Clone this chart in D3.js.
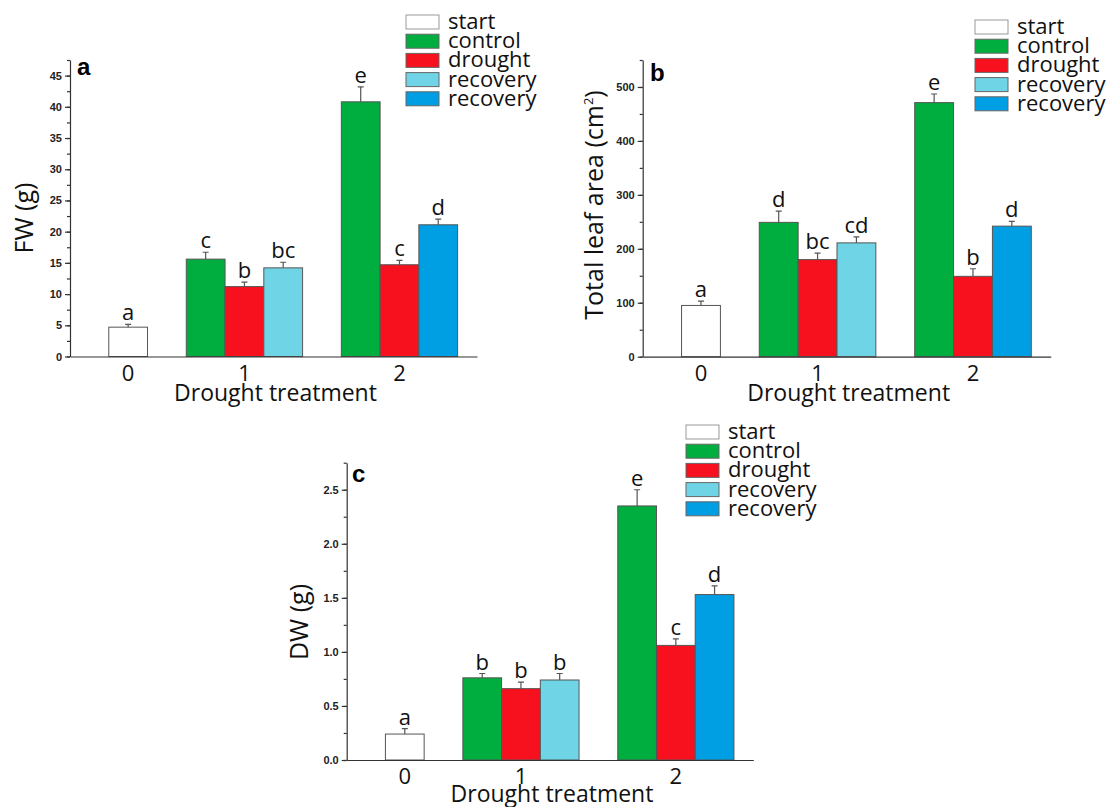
<!DOCTYPE html>
<html>
<head>
<meta charset="utf-8">
<title>Drought treatment panels</title>
<script src="https://cdnjs.cloudflare.com/ajax/libs/d3/7.8.5/d3.min.js"></script>
<style>
body { margin: 0; background: #fff; }
.tick text { font-family: "Liberation Sans", Arial, sans-serif; font-weight: bold; font-size: 11px; fill: #222; }
.axis path, .axis line { stroke: #333; stroke-width: 1.2; }
.lab { font-family: "Open Sans", sans-serif; fill: #111; }
.ptitle { font-family: "Liberation Sans", Arial, sans-serif; font-weight: bold; font-size: 24px; }
.bar { stroke: #555; stroke-width: 1; }
.err { stroke: #555; stroke-width: 1.2; }
</style>
</head>
<body>
<svg id="vis" width="1113" height="807"></svg>
<script>
// categories and series
var groups = ["0", "1", "2"];
var seriesNames = ["start", "control", "drought", "recovery", "recovery"];
var seriesColors = ["#ffffff", "#00ae3f", "#f7111f", "#6fd5e6", "#009fe3"];
var groupSeries = [[0], [1, 2, 3], [1, 2, 4]];

// panel a: fresh weight
var fwMean = [[4.7], [15.6, 11.2, 14.2], [40.8, 14.7, 21.1]];
var fwErr = [[0.45], [1.1, 0.7, 0.9], [2.4, 0.7, 0.9]];
var fwLetters = [["a"], ["c", "b", "bc"], ["e", "c", "d"]];
var fwTicks = [0, 5, 10, 15, 20, 25, 30, 35, 40, 45];

// panel b: total leaf area
var areaMean = [[95], [249, 180, 211], [471, 149, 242]];
var areaErr = [[8], [21, 12, 11], [16, 14, 9]];
var areaLetters = [["a"], ["d", "bc", "cd"], ["e", "b", "d"]];
var areaTicks = [0, 100, 200, 300, 400, 500];

// panel c: dry weight
var dwMean = [[0.24], [0.76, 0.66, 0.74], [2.35, 1.06, 1.53]];
var dwErr = [[0.05], [0.04, 0.06, 0.06], [0.15, 0.06, 0.08]];
var dwLetters = [["a"], ["b", "b", "b"], ["e", "c", "d"]];
var dwTicks = [0, 0.5, 1.0, 1.5, 2.0, 2.5];

var svg = d3.select("#vis");

var panels = [
  {id: "a", mean: fwMean, err: fwErr, letters: fwLetters, ticks: fwTicks, max: 47.5, minor: 2.5, fmt: d3.format("d"),
   box: [70, 477, 60, 356.5], title: [77, 75], ylab: [33, 218], legend: [406, 15], xlabY: 401},
  {id: "b", mean: areaMean, err: areaErr, letters: areaLetters, ticks: areaTicks, max: 550, minor: 50, fmt: d3.format("d"),
   box: [642.7, 1050.7, 60, 356.7], title: [650, 81], ylab: [603, 205], legend: [975, 20], xlabY: 401},
  {id: "c", mean: dwMean, err: dwErr, letters: dwLetters, ticks: dwTicks, max: 2.75, minor: 0.25, fmt: d3.format(".1f"),
   box: [346.7, 753.3, 462.7, 760], title: [352, 481.5], ylab: [308, 622], legend: [686, 425], xlabY: 802}
];

// lay bars into slots, one empty slot between groups
var slots = [];
var s = 0;
groups.forEach(function(g, gi) {
  groupSeries[gi].forEach(function(si, bi) {
    slots.push({g: gi, b: bi, series: si, slot: s});
    s++;
  });
  s++;
});

function groupCenter(gi) {
  return d3.mean(slots.filter(d => d.g == gi), d => d.slot);
}

panels.forEach(drawPanel);

function drawPanel(p) {
  var left = p.box[0], right = p.box[1], top = p.box[2], bottom = p.box[3];
  var g = svg.append("g");

  var x = d3.scaleLinear().domain([-1.5, 9]).range([left, right]);
  var y = d3.scaleLinear().domain([0, p.max]).range([bottom, top]);
  var bw = x(0.5) - x(-0.5);

  // minor ticks
  g.append("g")
    .attr("class", "axis")
    .attr("transform", `translate(${left},0)`)
    .call(d3.axisLeft(y).tickValues(d3.range(0, p.max + p.minor / 2, p.minor)).tickSize(3).tickFormat(""))
    .select(".domain").remove();

  g.append("g")
    .attr("class", "axis")
    .attr("transform", `translate(${left},0)`)
    .call(d3.axisLeft(y).tickValues(p.ticks).tickSize(5).tickSizeOuter(0).tickPadding(3).tickFormat(p.fmt));

  var bars = slots.map(d => ({
    slot: d.slot, series: d.series,
    v: p.mean[d.g][d.b], e: p.err[d.g][d.b], l: p.letters[d.g][d.b]
  }));

  g.selectAll(".bar")
    .data(bars).enter().append("rect")
      .attr("class", "bar")
      .attr("x", d => x(d.slot) - bw / 2)
      .attr("width", bw)
      .attr("y", d => y(d.v))
      .attr("height", d => y(0) - y(d.v))
      .style("fill", d => seriesColors[d.series]);

  g.selectAll(".err")
    .data(bars).enter().append("path")
      .attr("class", "err")
      .attr("fill", "none")
      .attr("d", d => `M${x(d.slot)},${y(d.v)}V${y(d.v + d.e)}M${x(d.slot) - 3},${y(d.v + d.e)}H${x(d.slot) + 3}`);

  g.selectAll(".letter")
    .data(bars).enter().append("text")
      .attr("class", "lab")
      .attr("x", d => x(d.slot))
      .attr("y", d => y(d.v + d.e) - 4)
      .attr("text-anchor", "middle")
      .style("font-size", "22px")
      .text(d => d.l);

  // x axis line only
  g.append("g")
    .attr("class", "axis")
    .attr("transform", `translate(0,${bottom})`)
    .call(d3.axisBottom(x).tickValues([]).tickSizeOuter(0));

  g.selectAll(".xlab")
    .data(groups).enter().append("text")
      .attr("class", "lab")
      .attr("x", (d, i) => x(groupCenter(i)))
      .attr("y", bottom + 24)
      .attr("text-anchor", "middle")
      .style("font-size", "22px")
      .text(d => d);

  g.append("text")
    .attr("class", "lab")
    .attr("x", (left + right) / 2 + 2)
    .attr("y", p.xlabY)
    .attr("text-anchor", "middle")
    .style("font-size", "23px")
    .text("Drought treatment");

  g.append("text")
    .attr("class", "ptitle")
    .attr("x", p.title[0])
    .attr("y", p.title[1])
    .text(p.id);

  var yl = g.append("text")
    .attr("class", "lab")
    .attr("transform", `translate(${p.ylab[0]},${p.ylab[1]}) rotate(-90)`)
    .attr("text-anchor", "middle")
    .style("font-size", "25px");
  if (p.id == "a") yl.text("FW (g)");
  if (p.id == "c") yl.text("DW (g)");
  if (p.id == "b") {
    yl.append("tspan").text("Total leaf area (cm");
    yl.append("tspan").attr("dy", -10).style("font-size", "13px").text("2");
    yl.append("tspan").attr("dy", 10).text(")");
  }

  // legend
  var lg = g.append("g").attr("transform", `translate(${p.legend[0]},${p.legend[1]})`);
  var item = lg.selectAll(".item")
    .data(seriesNames).enter().append("g")
      .attr("transform", (d, i) => `translate(0,${i * 19.2})`);
  item.append("rect")
    .attr("width", 33)
    .attr("height", 14)
    .style("fill", (d, i) => seriesColors[i])
    .style("stroke", (d, i) => i == 0 ? "#999" : "#666")
    .style("stroke-width", 1);
  item.append("text")
    .attr("class", "lab")
    .attr("x", 42)
    .attr("y", 14)
    .style("font-size", "22px")
    .text(d => d);
}
</script>
</body>
</html>
